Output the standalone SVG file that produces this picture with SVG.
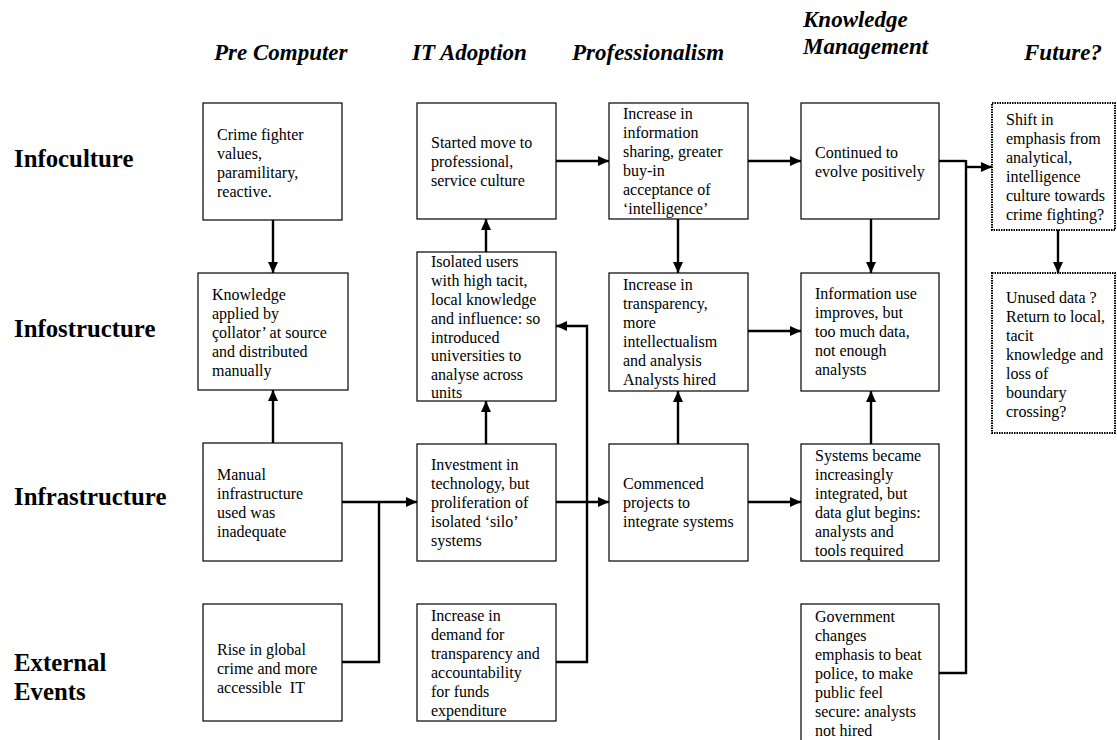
<svg xmlns="http://www.w3.org/2000/svg" width="1117" height="740" viewBox="0 0 1117 740">
<style>
.hdr{font-family:"Liberation Serif","Times New Roman",serif;font-size:23px;font-weight:bold;font-style:italic;fill:#000}
.row{font-family:"Liberation Serif","Times New Roman",serif;font-size:24.8px;font-weight:bold;fill:#000}
.t{font-family:"Liberation Serif","Times New Roman",serif;font-size:16px;fill:#000}
.box{fill:#fff;stroke:#000;stroke-width:1.2}
.dot{fill:#fff;stroke:#000;stroke-width:2;stroke-dasharray:1.5 1}
.c{fill:none;stroke:#000;stroke-width:2.4}
</style>
<defs>
<marker id="ah" markerUnits="userSpaceOnUse" markerWidth="11" markerHeight="10" refX="11" refY="5" orient="auto">
<path d="M0,0 L11,5 L0,10 z" fill="#000"/>
</marker>
</defs>
<rect width="1117" height="740" fill="#fff"/>
<g id="headers">
<text class="hdr" x="214" y="60">Pre Computer</text>
<text class="hdr" x="412" y="60">IT Adoption</text>
<text class="hdr" x="572" y="60">Professionalism</text>
<text class="hdr" x="803" y="27">Knowledge</text>
<text class="hdr" x="803" y="54">Management</text>
<text class="hdr" x="1024" y="60">Future?</text>
</g>
<g id="rows">
<text class="row" x="14" y="167">Infoculture</text>
<text class="row" x="14" y="337">Infostructure</text>
<text class="row" x="14" y="505">Infrastructure</text>
<text class="row" x="14" y="671">External</text>
<text class="row" x="14" y="700">Events</text>
</g>
<g id="connectors">
<line class="c" x1="273" y1="220" x2="273" y2="273" marker-end="url(#ah)"/>
<line class="c" x1="273" y1="443" x2="273" y2="390" marker-end="url(#ah)"/>
<line class="c" x1="342" y1="502" x2="417" y2="502" marker-end="url(#ah)"/>
<path class="c" d="M342 662 H379 V502"/>
<line class="c" x1="486" y1="444" x2="486" y2="401" marker-end="url(#ah)"/>
<line class="c" x1="486" y1="252" x2="486" y2="219" marker-end="url(#ah)"/>
<path class="c" d="M556 662 H587 V326 H556" marker-end="url(#ah)"/>
<line class="c" x1="556" y1="161" x2="609" y2="161" marker-end="url(#ah)"/>
<line class="c" x1="556" y1="502" x2="609" y2="502" marker-end="url(#ah)"/>
<line class="c" x1="678" y1="219" x2="678" y2="273" marker-end="url(#ah)"/>
<line class="c" x1="678" y1="444" x2="678" y2="391" marker-end="url(#ah)"/>
<line class="c" x1="748" y1="161" x2="801" y2="161" marker-end="url(#ah)"/>
<line class="c" x1="748" y1="331" x2="801" y2="331" marker-end="url(#ah)"/>
<line class="c" x1="748" y1="502" x2="801" y2="502" marker-end="url(#ah)"/>
<line class="c" x1="871" y1="219" x2="871" y2="273" marker-end="url(#ah)"/>
<line class="c" x1="871" y1="444" x2="871" y2="391" marker-end="url(#ah)"/>
<path class="c" d="M939 161 H966"/>
<path class="c" d="M939 673 H966 V160"/>
<line class="c" x1="966" y1="167" x2="992" y2="167" marker-end="url(#ah)"/>
<line class="c" x1="1058" y1="230" x2="1058" y2="273" marker-end="url(#ah)"/>
</g>
<g id="n-crime">
<rect class="box" x="203" y="103" width="139" height="117"/>
<text class="t" x="217" y="140">Crime fighter</text>
<text class="t" x="217" y="159">values,</text>
<text class="t" x="217" y="178">paramilitary,</text>
<text class="t" x="217" y="197">reactive.</text>
</g>
<g id="n-knowledge">
<rect class="box" x="198" y="273" width="150" height="117"/>
<text class="t" x="212" y="300">Knowledge</text>
<text class="t" x="212" y="319">applied by</text>
<text class="t" x="212" y="338">çollator’ at source</text>
<text class="t" x="212" y="357">and distributed</text>
<text class="t" x="212" y="376">manually</text>
</g>
<g id="n-manual">
<rect class="box" x="203" y="443" width="139" height="118"/>
<text class="t" x="217" y="480">Manual</text>
<text class="t" x="217" y="499">infrastructure</text>
<text class="t" x="217" y="518">used was</text>
<text class="t" x="217" y="537">inadequate</text>
</g>
<g id="n-rise">
<rect class="box" x="203" y="604" width="139" height="117"/>
<text class="t" x="217" y="655">Rise in global</text>
<text class="t" x="217" y="674">crime and more</text>
<text class="t" x="217" y="693">accessible&#160; IT</text>
</g>
<g id="n-started">
<rect class="box" x="417" y="103" width="139" height="116"/>
<text class="t" x="431" y="148">Started move to</text>
<text class="t" x="431" y="167">professional,</text>
<text class="t" x="431" y="186">service culture</text>
</g>
<g id="n-isolated">
<rect class="box" x="417" y="252" width="139" height="149"/>
<text class="t" x="431" y="267">Isolated users</text>
<text class="t" x="431" y="286">with high tacit,</text>
<text class="t" x="431" y="305">local knowledge</text>
<text class="t" x="431" y="324">and influence: so</text>
<text class="t" x="431" y="343">introduced</text>
<text class="t" x="431" y="361">universities to</text>
<text class="t" x="431" y="380">analyse across</text>
<text class="t" x="431" y="398">units</text>
</g>
<g id="n-investment">
<rect class="box" x="417" y="444" width="139" height="117"/>
<text class="t" x="431" y="470">Investment in</text>
<text class="t" x="431" y="489">technology, but</text>
<text class="t" x="431" y="508">proliferation of</text>
<text class="t" x="431" y="527">isolated ‘silo’</text>
<text class="t" x="431" y="546">systems</text>
</g>
<g id="n-demand">
<rect class="box" x="417" y="604" width="139" height="117"/>
<text class="t" x="431" y="621">Increase in</text>
<text class="t" x="431" y="640">demand for</text>
<text class="t" x="431" y="659">transparency and</text>
<text class="t" x="431" y="678">accountability</text>
<text class="t" x="431" y="697">for funds</text>
<text class="t" x="431" y="716">expenditure</text>
</g>
<g id="n-sharing">
<rect class="box" x="609" y="103" width="139" height="116"/>
<text class="t" x="623" y="119">Increase in</text>
<text class="t" x="623" y="138">information</text>
<text class="t" x="623" y="157">sharing, greater</text>
<text class="t" x="623" y="176">buy-in</text>
<text class="t" x="623" y="195">acceptance of</text>
<text class="t" x="623" y="214">‘intelligence’</text>
</g>
<g id="n-transparency">
<rect class="box" x="609" y="273" width="139" height="118"/>
<text class="t" x="623" y="290">Increase in</text>
<text class="t" x="623" y="309">transparency,</text>
<text class="t" x="623" y="328">more</text>
<text class="t" x="623" y="347">intellectualism</text>
<text class="t" x="623" y="366">and analysis</text>
<text class="t" x="623" y="385">Analysts hired</text>
</g>
<g id="n-commenced">
<rect class="box" x="609" y="444" width="139" height="117"/>
<text class="t" x="623" y="489">Commenced</text>
<text class="t" x="623" y="508">projects to</text>
<text class="t" x="623" y="527">integrate systems</text>
</g>
<g id="n-continued">
<rect class="box" x="801" y="103" width="138" height="116"/>
<text class="t" x="815" y="158">Continued to</text>
<text class="t" x="815" y="177">evolve positively</text>
</g>
<g id="n-infouse">
<rect class="box" x="801" y="273" width="138" height="118"/>
<text class="t" x="815" y="299">Information use</text>
<text class="t" x="815" y="318">improves, but</text>
<text class="t" x="815" y="337">too much data,</text>
<text class="t" x="815" y="356">not enough</text>
<text class="t" x="815" y="375">analysts</text>
</g>
<g id="n-systems">
<rect class="box" x="801" y="444" width="138" height="117"/>
<text class="t" x="815" y="461">Systems became</text>
<text class="t" x="815" y="480">increasingly</text>
<text class="t" x="815" y="499">integrated, but</text>
<text class="t" x="815" y="518">data glut begins:</text>
<text class="t" x="815" y="537">analysts and</text>
<text class="t" x="815" y="556">tools required</text>
</g>
<g id="n-government">
<rect class="box" x="801" y="604" width="138" height="145"/>
<text class="t" x="815" y="622">Government</text>
<text class="t" x="815" y="641">changes</text>
<text class="t" x="815" y="660">emphasis to beat</text>
<text class="t" x="815" y="679">police, to make</text>
<text class="t" x="815" y="698">public feel</text>
<text class="t" x="815" y="717">secure: analysts</text>
<text class="t" x="815" y="736">not hired</text>
</g>
<g id="n-shift">
<rect class="dot" x="992" y="103" width="123" height="127"/>
<text class="t" x="1006" y="125">Shift in</text>
<text class="t" x="1006" y="144">emphasis from</text>
<text class="t" x="1006" y="163">analytical,</text>
<text class="t" x="1006" y="182">intelligence</text>
<text class="t" x="1006" y="201">culture towards</text>
<text class="t" x="1006" y="220">crime fighting?</text>
</g>
<g id="n-unused">
<rect class="dot" x="992" y="273" width="123" height="160"/>
<text class="t" x="1006" y="303">Unused data ?</text>
<text class="t" x="1006" y="322">Return to local,</text>
<text class="t" x="1006" y="341">tacit</text>
<text class="t" x="1006" y="360">knowledge and</text>
<text class="t" x="1006" y="379">loss of</text>
<text class="t" x="1006" y="398">boundary</text>
<text class="t" x="1006" y="417">crossing?</text>
</g>
</svg>
